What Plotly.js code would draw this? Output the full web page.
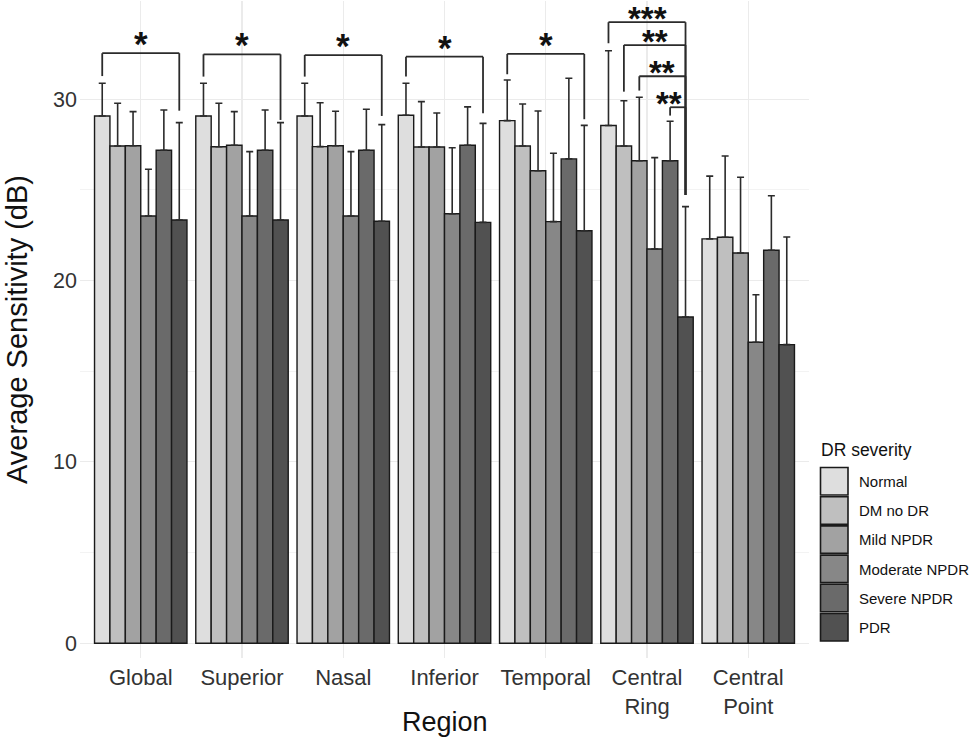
<!DOCTYPE html>
<html>
<head>
<meta charset="utf-8">
<script src="https://cdn.plot.ly/plotly-3.0.1.min.js"></script>
<style>html,body{margin:0;padding:0;background:#fff;}#chart{width:975px;height:743px;}</style>
</head>
<body>
<div id="chart"></div>
<script>
// ---- data ----
const regions = ['Global', 'Superior', 'Nasal', 'Inferior', 'Temporal', 'Central<br>Ring', 'Central<br>Point'];
const severities = ['Normal', 'DM no DR', 'Mild NPDR', 'Moderate NPDR', 'Severe NPDR', 'PDR'];
const meanNormal   = [29.08, 29.08, 29.08, 29.12, 28.82, 28.55, 22.30];
const meanDMnoDR   = [27.42, 27.38, 27.39, 27.37, 27.42, 27.42, 22.39];
const meanMild     = [27.44, 27.46, 27.44, 27.37, 26.06, 26.61, 21.52];
const meanModerate = [23.56, 23.56, 23.56, 23.69, 23.25, 21.74, 16.60];
const meanSevere   = [27.19, 27.19, 27.19, 27.46, 26.71, 26.61, 21.67];
const meanPDR      = [23.34, 23.34, 23.27, 23.21, 22.75, 17.99, 16.47];
const sdNormal     = [1.80, 1.80, 1.80, 1.76, 2.24, 4.13, 3.46];
const sdDMnoDR     = [2.36, 2.40, 2.42, 2.50, 2.32, 2.50, 4.48];
const sdMild       = [1.88, 1.86, 1.90, 1.87, 3.29, 3.50, 4.18];
const sdModerate   = [2.58, 3.55, 3.55, 3.64, 3.77, 5.04, 2.62];
const sdSevere     = [2.22, 2.22, 2.26, 2.12, 4.45, 2.18, 3.01];
const sdPDR        = [5.37, 5.37, 5.33, 5.46, 5.81, 6.09, 5.93];
// significance brackets: region index, from group, to group, bar height, left end, right end, label
const brRegion = [0, 1, 2, 3, 4, 5, 5, 5, 5];
const brFrom   = [0, 0, 0, 0, 0, 0, 1, 2, 4];
const brTo     = [5, 5, 5, 5, 5, 5, 5, 5, 5];
const brTop    = [32.54, 32.48, 32.44, 32.35, 32.50, 34.25, 32.99, 31.27, 29.56];
const brLeft   = [31.28, 31.25, 31.25, 31.25, 31.38, 33.09, 30.42, 30.48, 29.10];
const brRight  = [29.37, 28.86, 29.08, 29.23, 28.90, 24.72, 24.72, 24.72, 24.72];
const brLabel  = ['*', '*', '*', '*', '*', '***', '**', '**', '**'];

// ---- styles ----
const fills = ['#dedede', '#bfbfbf', '#a2a2a2', '#878787', '#6a6a6a', '#515151'];
const means = [meanNormal, meanDMnoDR, meanMild, meanModerate, meanSevere, meanPDR];
const sds = [sdNormal, sdDMnoDR, sdMild, sdModerate, sdSevere, sdPDR];
const xIdx = regions.map((_, i) => i);
const bargap = 0.087;
const groupW = 1 - bargap;
const barW = groupW / severities.length;
const offs = k => -groupW / 2 + barW * (k + 0.5);
const FONT = 'Liberation Sans, Arial, Helvetica, sans-serif';

const traces = severities.map((s, k) => ({
  type: 'bar', name: s, x: xIdx, y: means[k],
  marker: {color: fills[k], line: {color: '#1a1a1a', width: 1.4}},
  error_y: {type: 'data', symmetric: false, array: sds[k], arrayminus: means[k].map(() => 0),
            color: '#2b2b2b', thickness: 1.6, width: 3.5},
  showlegend: false, hoverinfo: 'skip'
}));

const shapes = [];
const annotations = [];
const lineStyle = {color: '#2b2b2b', width: 1.8};
brRegion.forEach((r, i) => {
  const xl = r + offs(brFrom[i]);
  const xr = r + offs(brTo[i]);
  shapes.push({type: 'line', xref: 'x', yref: 'y', x0: xl, x1: xl, y0: brLeft[i], y1: brTop[i], line: lineStyle});
  shapes.push({type: 'line', xref: 'x', yref: 'y', x0: xl, x1: xr, y0: brTop[i], y1: brTop[i], line: lineStyle});
  shapes.push({type: 'line', xref: 'x', yref: 'y', x0: xr, x1: xr, y0: brRight[i], y1: brTop[i], line: lineStyle});
  const multi = brLabel[i].length > 1;
  annotations.push({xref: 'x', yref: 'y', x: (xl + xr) / 2, y: brTop[i], text: '<b>' + brLabel[i] + '</b>',
    showarrow: false, xanchor: 'center', yanchor: 'bottom', yshift: multi ? -17 : -12,
    xshift: (r === 5 && brFrom[i] === 4) ? -9 : 0,
    font: {family: FONT, size: multi ? 33 : 35, color: '#111'}});
});

// custom legend (ggplot-style keys)
const W = 729, H = 657, L = 80, T = 1;
const px = v => (v - L) / W;
const py = v => (T + H - v) / H;
annotations.push({xref: 'paper', yref: 'paper', x: px(819), y: py(450), text: 'DR severity', showarrow: false,
  xanchor: 'left', yanchor: 'middle', font: {family: FONT, size: 17.5, color: '#111'}});
severities.forEach((s, k) => {
  const top = 467 + k * 29.2;
  shapes.push({type: 'rect', xref: 'paper', yref: 'paper', x0: px(820.5), x1: px(848), y0: py(top + 28), y1: py(top + 0.5),
    fillcolor: fills[k], line: {color: '#1a1a1a', width: 1.6}});
  annotations.push({xref: 'paper', yref: 'paper', x: px(857), y: py(top + 14.5), text: s, showarrow: false,
    xanchor: 'left', yanchor: 'middle', font: {family: FONT, size: 15, color: '#111'}});
});
// x-axis title placed as text under the tick labels
annotations.push({xref: 'paper', yref: 'paper', x: 0.5, y: py(722), text: 'Region', showarrow: false,
  xanchor: 'center', yanchor: 'middle', font: {family: FONT, size: 27, color: '#111'}});

const layout = {
  width: 975, height: 743,
  margin: {l: L, r: 975 - L - W, t: T, b: 743 - T - H},
  paper_bgcolor: '#fff', plot_bgcolor: '#fff',
  barmode: 'group', bargap: bargap, bargroupgap: 0,
  font: {family: FONT, color: '#333'},
  showlegend: false,
  xaxis: {
    range: [-0.6, 6.6], tickmode: 'array', tickvals: xIdx, ticktext: regions,
    showgrid: true, gridcolor: '#ebebeb', gridwidth: 1.1, zeroline: false, showline: false,
    ticks: '', tickfont: {family: FONT, size: 22, color: '#333'}, ticklabelstandoff: 4,
    automargin: false
  },
  yaxis: {
    range: [-0.816, 35.42], tickmode: 'array', tickvals: [0, 10, 20, 30],
    showgrid: true, gridcolor: '#ebebeb', gridwidth: 1.1, zeroline: false, showline: false,
    minor: {tickvals: [5, 15, 25], showgrid: true, gridcolor: '#f0f0f0', gridwidth: 0.8},
    ticks: '', tickfont: {family: FONT, size: 21.5, color: '#333'}, ticklabelstandoff: 2,
    automargin: false,
    title: {text: 'Average Sensitivity (dB)', font: {family: FONT, size: 29, color: '#111'}, standoff: 16}
  },
  shapes: shapes,
  annotations: annotations
};

Plotly.newPlot('chart', traces, layout, {displayModeBar: false, staticPlot: true});
</script>
</body>
</html>
